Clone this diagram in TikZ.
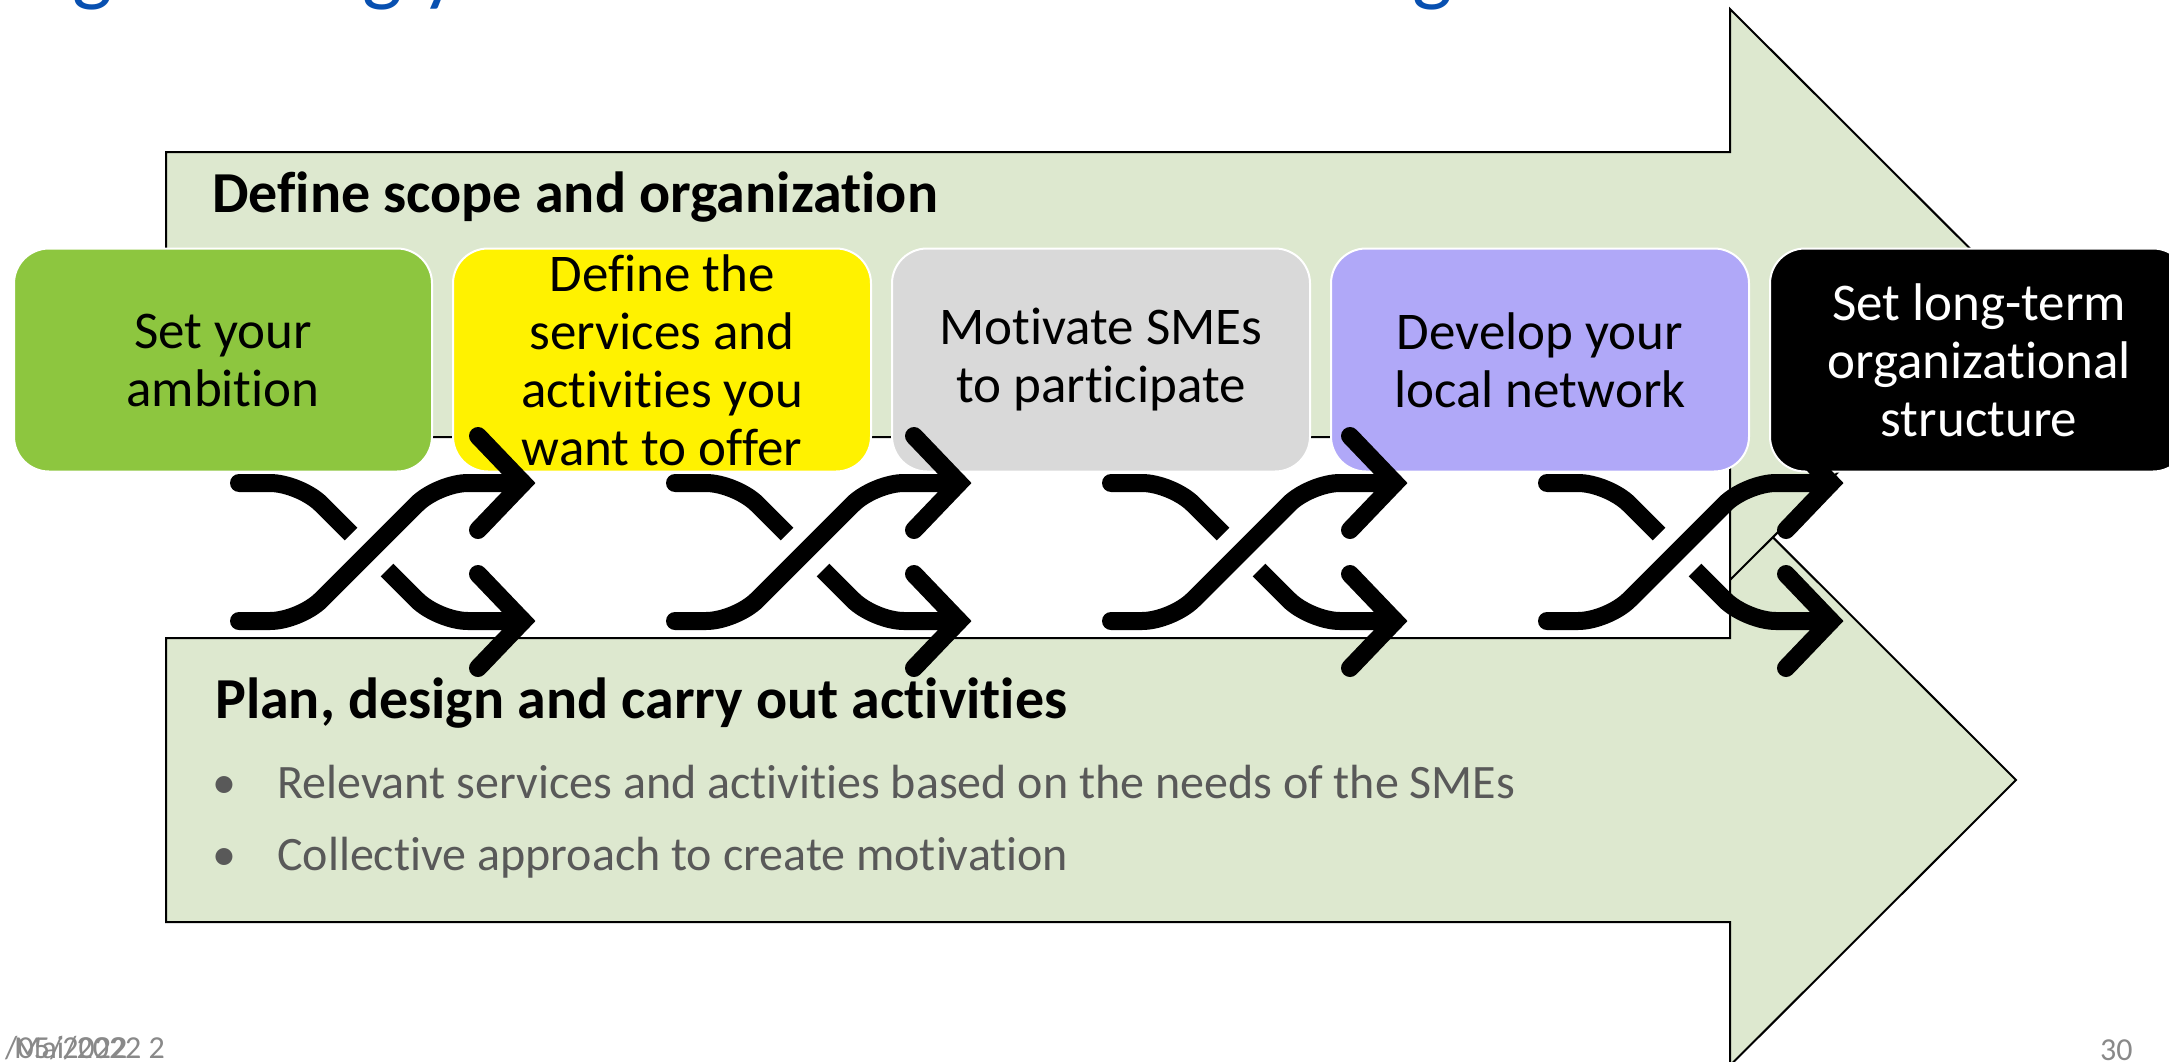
\documentclass[tikz,border=0pt]{standalone}
\usepackage{fontspec}
\setmainfont{Carlito}[Ligatures={CommonOff,ContextualOff}]
\definecolor{bandfill}{RGB}{221,232,207}
\definecolor{ambgreen}{RGB}{141,198,63}
\definecolor{offeryellow}{RGB}{255,242,0}
\definecolor{motivgrey}{RGB}{217,217,217}
\definecolor{netviolet}{RGB}{176,168,248}
\definecolor{bulletgrey}{RGB}{89,89,89}
\definecolor{footgrey}{RGB}{137,137,137}
\definecolor{titleblue}{RGB}{8,80,176}
\begin{document}
\begin{tikzpicture}[x=1pt,y=-1pt,
    band/.style={fill=bandfill, draw=black, line width=2pt},
    stage/.style={rounded corners=35pt, draw=white, line width=2pt, inner sep=0pt,
        minimum width=418pt, minimum height=223pt, align=center,
        font=\fontsize{53}{58}\selectfont},
    heading/.style={anchor=base west, inner sep=0pt, font=\fontsize{58}{60}\selectfont\bfseries},
    item/.style={anchor=base west, inner sep=0pt, text=bulletgrey, font=\fontsize{48}{50}\selectfont},
    foot/.style={anchor=base west, inner sep=0pt, text=footgrey, font=\fontsize{32}{36}\selectfont},
    shuffle/.style={line width=18pt, line cap=round, rounded corners=30pt},
    chevron/.style={line width=18pt, line cap=round, line join=miter}]
    \useasboundingbox (0,0) rectangle (2169,1061);
    \clip (0,0) rectangle (2169,1061);

    % title, cut off by the top edge
    \node[anchor=base west, inner sep=0pt, text=titleblue, font=\fontsize{85}{90}\selectfont] (t1) at (72,-5) {g};
    \node[anchor=base west, inner sep=0pt, text=titleblue, font=\fontsize{85}{90}\selectfont] (t2) at (362,-5) {g y};
    \node[anchor=base west, inner sep=0pt, text=titleblue, font=\fontsize{85}{90}\selectfont] (t3) at (1412,-5) {g};

    % the two big arrows
    \draw[band] (166,638) -- (1730,638) -- (1730,494.5) -- (2016,780) -- (1730,1065.5) -- (1730,922) -- (166,922) -- cycle;
    \draw[band] (166,152) -- (1730,152) -- (1730,9) -- (2016,294.5) -- (1730,580) -- (1730,437) -- (166,437) -- cycle;

    \node[heading] (scope) at (212,212) {Define scope and organization};
    \node[heading] (plan) at (215,718) {Plan, design and carry out activities};
    \node[item] (b1) at (212,798) {•};
    \node[item] (i1) at (277,798) {Relevant services and activities based on the needs of the SMEs};
    \node[item] (b2) at (212,870) {•};
    \node[item] (i2) at (277,870) {Collective approach to create motivation};

    % stages
    \node[stage, fill=ambgreen] (s1) at (223,360) {Set your\\ambition};
    \node[stage, fill=offeryellow] (s2) at (662,360) {Define the\\services and\\activities you\\want to offer};
    \node[stage, fill=motivgrey] (s3) at (1101,360) {Motivate SMEs\\to participate};
    \node[stage, fill=netviolet] (s4) at (1540,360) {Develop your\\local network};
    \node[stage, fill=black, text=white] (s5) at (1979,360) {Set long-term\\organizational\\structure};

    % shuffle icons between the stages
    \foreach \i in {0,1,2,3} {
        \begin{scope}[shift={(239+436*\i,552)}]
            \draw[shuffle] (0,69) -- (61,69) -- (199,-69) -- (284,-69);
            \draw[shuffle, line cap=butt] (0,-69) -- (61,-69) -- (112,-18);
            \draw[shuffle, line cap=butt] (148,18) -- (199,69) -- (284,69);
            \draw[line width=18pt, line cap=round] (0,-69) -- (1,-69);
            \draw[line width=18pt, line cap=round] (283,69) -- (284,69);
            \draw[chevron] (239,-116) -- (284,-69) -- (239,-22);
            \draw[chevron] (239,22) -- (284,69) -- (239,116);
        \end{scope}
    }

    \node[foot] (date) at (5,1058) {/05/2022};
    \node[foot] (date2) at (14,1058) {Mai/2022 2};
    \node[foot] (page) at (2100,1060) {30};
\end{tikzpicture}
\end{document}
